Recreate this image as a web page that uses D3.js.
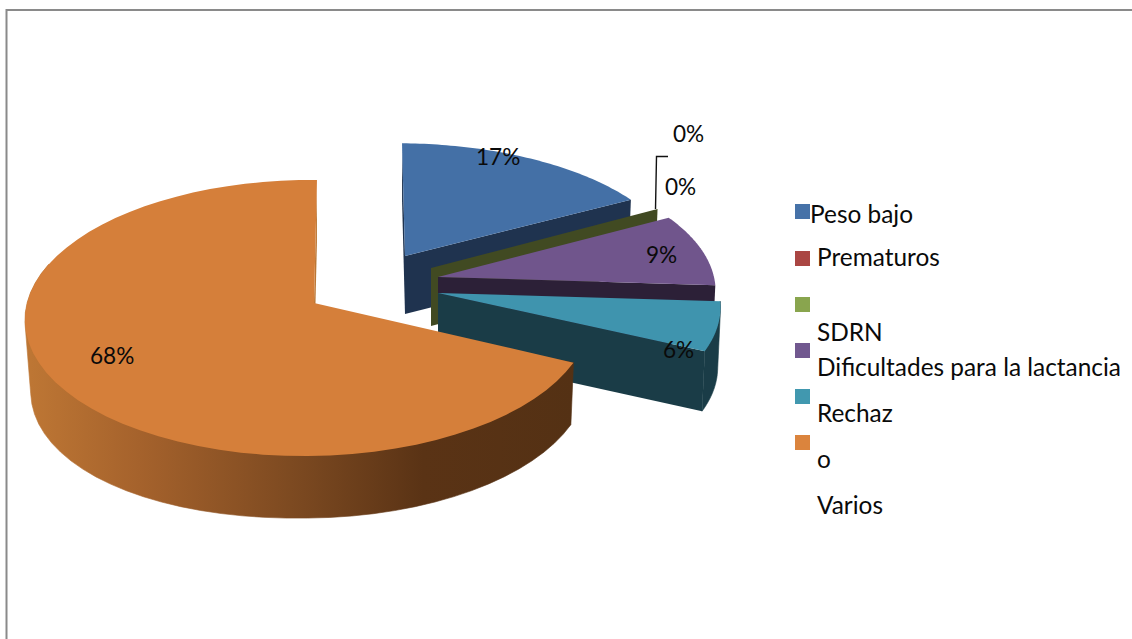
<!DOCTYPE html>
<html>
<head>
<meta charset="utf-8">
<script src="https://cdn.jsdelivr.net/npm/d3@7"></script>
<style>
html,body{margin:0;padding:0;background:#fff;}
svg{display:block;}
text{font-family:Lato,"Open Sans",sans-serif;fill:#0a0a0a;}
</style>
</head>
<body>
<svg id="chart" width="1132" height="639"></svg>
<script>
// ---- data ----
const categories = ["Peso bajo", "Prematuros", "SDRN", "Dificultades para la lactancia", "Rechazo", "Varios"];
const shares = [17, 0, 0, 9, 6, 68];
const labels = ["17%", "0%", "0%", "9%", "6%", "68%"];
// ---- styles ----
const topColors = ["#4470a6", "#aa4643", "#89a54e", "#70558c", "#3f94ae", "#d57f3a"];
const sideColors = ["#1f334f", "#4a1e1d", "#414a22", "#2c2037", "#1a3c47", "url(#rim)"];
const swatchColors = ["#4672a8", "#aa4643", "#89a54e", "#71588f", "#4198af", "#db843d"];
// ---- layout: one projected disc per exploded slice ----
const k = 0.1087, j = 0.0218;
const discs = [
  {ax:405, ay:256, R:278, Ry:125,   sh:-3.3, depth:58, cuts:["start","end"], rim:false},
  {ax:431, ay:268, R:277, Ry:131,   sh:0,    depth:58, cuts:[],              rim:false},
  {ax:431, ay:268, R:277, Ry:131,   sh:0,    depth:58, cuts:["end"],         rim:false},
  {ax:438, ay:277, R:282, Ry:132,   sh:0,    depth:60, cuts:["end"],         rim:false},
  {ax:438, ay:293, R:287, Ry:133,   sh:0,    depth:60, cuts:["end"],         rim:true},
  {ax:314, ay:303, R:280.7, Ry:136.4, sh:3.3, depth:62, cuts:["end"],        rim:true}
];
const labelPos = [[476,165],[665,195],[673,142],[646,263],[663,358],[90,364]];
const leader = [[655.5,209],[656.5,156.5],[668,156.5]];
const legendSwatchY = [204, 251, 297, 343, 389, 435];
const legendRows = [
  {t:"Peso bajo", x:810, y:223},
  {t:"Prematuros", x:817, y:266},
  {t:"SDRN", x:817, y:341},
  {t:"Dificultades para la lactancia", x:817, y:375.5},
  {t:"Rechaz", x:817, y:422},
  {t:"o", x:817, y:468},
  {t:"Varios", x:817, y:514}
];

const svg = d3.select("#chart");
const defs = svg.append("defs");
const grad = defs.append("linearGradient").attr("id","rim")
  .attr("gradientUnits","userSpaceOnUse").attr("x1",31).attr("x2",575).attr("y1",0).attr("y2",0);
[[0,"#bd7634"],[0.2,"#a5622c"],[0.5,"#7a4820"],[0.72,"#5a3315"],[1,"#543114"]]
  .forEach(s=>grad.append("stop").attr("offset",s[0]).attr("stop-color",s[1]));

// frame
svg.append("path").attr("d",d3.line()([[6.5,639],[6.5,10],[1132,10]]))
  .attr("fill","none").attr("stroke","#8a8a8a").attr("stroke-width",2);

function project(a, d){
  const u = Math.sin(a), v = Math.cos(a), s = 1/(1 + k*v + j*u);
  return [d.ax + (d.R*u + d.sh*v)*s, d.ay - d.Ry*v*s];
}
// lower edge of the extruded disc: slightly narrower, and deeper toward the left
function lower(p, d){
  const dx = p[0]-d.ax, t = Math.max(0, -dx/d.R);
  return [d.ax + dx*(dx<0 ? 0.98 : 0.99), p[1] + d.depth + 9*Math.pow(t,1.5)];
}
const line = d3.line();
const pie = d3.pie().sort(null).value(v=>v)(shares);
const arcPts = (a0,a1,d) => d3.range(0,61).map(i=>project(a0+(a1-a0)*i/60,d));

const g = svg.append("g");
pie.forEach((sl,i)=>{
  const d = discs[i], a0 = sl.startAngle, a1 = sl.endAngle;
  const apex = [d.ax,d.ay], apexL = lower(apex,d);
  const faceFill = i===5 ? "#bc7734" : sideColors[i];
  d.cuts.forEach(c=>{
    const p = project(c==="start"?a0:a1,d);
    g.append("path").attr("d",line([apex,p,lower(p,d),apexL])+"Z")
      .attr("fill", faceFill);
  });
  if(d.rim){
    const pts = arcPts(a0,a1,d).filter(p=>p[1] > d.ay-40);
    const hull = d3.polygonHull(pts.concat(pts.map(p=>lower(p,d))));
    g.append("path").attr("d",line(hull)+"Z").attr("fill",sideColors[i])
      .attr("stroke",sideColors[i]).attr("stroke-width",0.6);
  }
  if(a1>a0){
    g.append("path").attr("d",line([apex].concat(arcPts(a0,a1,d)))+"Z").attr("fill",topColors[i]);
  }
});

// leader line
svg.append("path").attr("d",line(leader)).attr("fill","none").attr("stroke","#111").attr("stroke-width",1.4);

// data labels
svg.selectAll("text.dl").data(labels).join("text").attr("class","dl")
  .attr("x",(t,i)=>labelPos[i][0]).attr("y",(t,i)=>labelPos[i][1])
  .style("font-size","22.6px").text(t=>t);

// legend
svg.selectAll("rect.sw").data(categories).join("rect").attr("class","sw")
  .attr("x",795).attr("y",(c,i)=>legendSwatchY[i]).attr("width",15).attr("height",15)
  .attr("fill",(c,i)=>swatchColors[i]);
svg.selectAll("text.lg").data(legendRows).join("text").attr("class","lg")
  .attr("x",r=>r.x).attr("y",r=>r.y).style("font-size","24.4px").text(r=>r.t);
</script>
</body>
</html>
